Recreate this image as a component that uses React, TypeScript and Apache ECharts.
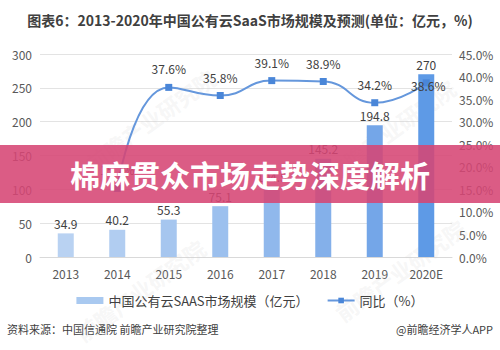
import React, { useEffect, useRef } from "react";
import * as echarts from "echarts";

const categories = ["2013", "2014", "2015", "2016", "2017", "2018", "2019", "2020E"];
const marketSize = [34.9, 40.2, 55.3, 75.1, 104.5, 145.2, 194.8, 270];
const growth: (number | null)[] = [null, 15.2, 37.6, 35.8, 39.1, 38.9, 34.2, 38.6];
const leftTicks = { min: 0, max: 300, interval: 50 };
const rightTicks = { min: 0, max: 45, interval: 5 };
const barColors = ["#b9d2f2", "#b1cdf1", "#a6c6ef", "#9cc0ee", "#90b8ec", "#84b0ea", "#74a6e8", "#5e9ae6"];

const FONT = "'Noto Sans CJK SC', 'Noto Sans', sans-serif";

export default function App() {
  const ref = useRef<HTMLDivElement>(null);
  useEffect(() => {
    if (!ref.current) return;
    const chart = echarts.init(ref.current, null, { renderer: "svg" });
    const watermark = (x: number, y: number) => ({
      type: "text",
      x,
      y,
      rotation: Math.PI / 5,
      z: 1,
      style: {
        text: "前瞻产业研究院",
        fill: "rgba(205,205,205,0.18)",
        font: `bold 22px ${FONT}`,
        align: "center",
        verticalAlign: "middle",
      },
    });
    chart.setOption({
      animation: false,
      textStyle: { fontFamily: FONT },
      title: {
        text: "图表6：2013-2020年中国公有云SaaS市场规模及预测(单位：亿元，%)",
        left: "center",
        top: 8,
        textStyle: { fontSize: 14, fontWeight: "bold", color: "#404040", fontFamily: FONT },
      },
      legend: {
        bottom: 38,
        left: "center",
        itemWidth: 27,
        itemHeight: 7,
        itemGap: 18,
        textStyle: { fontSize: 13, color: "#404040", fontFamily: FONT },
        data: [
          { name: "中国公有云SAAS市场规模（亿元）", icon: "rect" },
          { name: "同比（%）" },
        ],
      },
      grid: { left: 40, right: 48, top: 54, bottom: 93 },
      xAxis: {
        type: "category",
        data: categories,
        axisLine: { lineStyle: { color: "#d9d9d9" } },
        axisTick: { show: false },
        axisLabel: { color: "#595959", fontSize: 12, margin: 10 },
      },
      yAxis: [
        {
          type: "value",
          ...leftTicks,
          axisLine: { show: false },
          axisTick: { show: false },
          axisLabel: { color: "#595959", fontSize: 12, margin: 8 },
          splitLine: { lineStyle: { color: "#e3e3e3" } },
        },
        {
          type: "value",
          ...rightTicks,
          axisLine: { show: false },
          axisTick: { show: false },
          axisLabel: {
            color: "#595959",
            fontSize: 12,
            margin: 7,
            formatter: (v: number) => v.toFixed(1) + "%",
          },
          splitLine: { show: false },
        },
      ],
      series: [
        {
          name: "中国公有云SAAS市场规模（亿元）",
          type: "bar",
          barWidth: 16,
          itemStyle: { color: "#a9c9f0" },
          data: marketSize.map((v, i) => ({ value: v, itemStyle: { color: barColors[i] } })),
          label: { show: true, position: "top", color: "#404040", fontSize: 12, distance: 4 },
        },
        {
          name: "同比（%）",
          type: "line",
          yAxisIndex: 1,
          smooth: true,
          symbol: "rect",
          symbolSize: 7,
          itemStyle: { color: "#4a86d8" },
          lineStyle: { color: "#6597dc", width: 2 },
          data: growth.map((v, i) =>
            i === growth.length - 1
              ? { value: v, label: { position: "inside", offset: [2, 3] } }
              : { value: v }
          ),
          label: {
            show: true,
            position: "top",
            distance: 9,
            color: "#404040",
            fontSize: 12,
            formatter: (p: any) => (p.value == null ? "" : Number(p.value).toFixed(1) + "%"),
          },
        },
      ],
      graphic: [
        watermark(150, 120),
        watermark(390, 130),
        watermark(140, 290),
        watermark(400, 270),
        {
          type: "rect",
          z: 100,
          shape: { x: 0, y: 145, width: 500, height: 58 },
          style: { fill: "rgba(214,70,116,0.88)" },
        },
        {
          type: "text",
          z: 101,
          x: 250,
          y: 174,
          style: {
            text: "棉麻贯众市场走势深度解析",
            fill: "#ffffff",
            font: `bold 30px ${FONT}`,
            align: "center",
            verticalAlign: "middle",
          },
        },
        {
          type: "text",
          left: 7,
          top: 323,
          style: {
            text: "资料来源：中国信通院 前瞻产业研究院整理",
            fill: "#404040",
            font: `11px ${FONT}`,
          },
        },
        {
          type: "text",
          right: 7,
          top: 323,
          style: {
            text: "@前瞻经济学人APP",
            fill: "#404040",
            font: `11px ${FONT}`,
          },
        },
      ],
    });
    return () => chart.dispose();
  }, []);
  return (
    <div
      ref={ref}
      style={{ position: "fixed", left: 0, top: 0, width: 500, height: 350, background: "#fff" }}
    />
  );
}
